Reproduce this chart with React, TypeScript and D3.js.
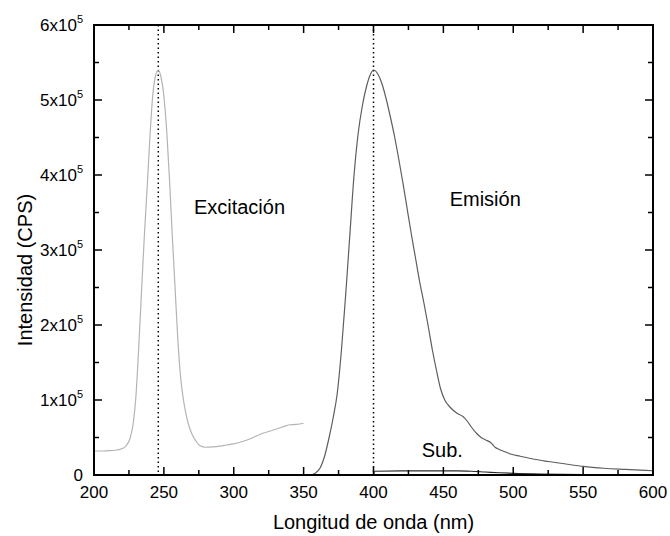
import React, { useEffect, useRef } from 'react'
import * as d3 from 'd3'

// wavelength (nm) / intensity (CPS)
const excWl = [200, 205, 210, 215, 220, 223, 226, 228, 230, 232, 234, 236, 238, 240, 242, 244, 246, 248, 250, 252, 254, 256, 258, 260, 262, 264, 266, 268, 270, 273, 276, 280, 285, 290, 295, 300, 305, 310, 315, 320, 325, 330, 335, 340, 345, 350]
const excI = [32000, 32000, 32500, 33000, 35000, 39000, 50000, 68000, 105000, 170000, 245000, 318000, 382000, 450000, 505000, 532000, 540000, 530000, 505000, 460000, 395000, 320000, 250000, 180000, 130000, 100000, 80000, 65000, 55000, 45000, 39000, 37000, 37500, 38500, 40000, 41500, 44000, 47000, 51000, 55000, 58000, 61000, 64000, 67000, 67500, 69000]

const emWl = [355, 358, 362, 365, 368, 371, 374, 377, 380, 383, 386, 389, 392, 395, 398, 400, 403, 406, 409, 412, 415, 418, 421, 424, 427, 430, 433, 436, 439, 442, 445, 448, 451, 455, 460, 464, 467, 470, 474, 477, 480, 484, 487, 490, 494, 498, 505, 515, 525, 540, 550, 565, 580, 600]
const emI = [0, 2000, 10000, 25000, 48000, 75000, 108000, 165000, 238000, 318000, 398000, 455000, 492000, 518000, 535000, 540000, 535000, 522000, 502000, 478000, 452000, 422000, 390000, 356000, 322000, 290000, 258000, 230000, 200000, 168000, 140000, 115000, 100000, 90000, 82000, 78000, 72000, 64000, 55000, 50000, 47000, 43000, 37000, 34000, 31000, 28000, 25000, 21000, 18000, 14000, 11500, 9000, 7500, 5700]

const subWl = [400, 401, 420, 440, 460, 470, 480, 490, 500, 520, 550, 600]
const subI = [0, 5000, 5500, 5500, 5500, 5000, 4000, 3000, 2200, 1200, 500, 200]

const peakLines = [246, 400]
const xTicks = [200, 250, 300, 350, 400, 450, 500, 550, 600]
const yTicks = [0, 1, 2, 3, 4, 5, 6]
const notes = [
  { text: 'Excitación', wl: 271.5, v: 3.48e5 },
  { text: 'Emisión', wl: 454.5, v: 3.59e5 },
  { text: 'Sub.', wl: 434.5, v: 0.24e5 },
]

const W = 670
const H = 536
const FONT = 'Liberation Sans, Arial, sans-serif'

export default function App() {
  const svgRef = useRef<SVGSVGElement>(null)

  useEffect(() => {
    if (!svgRef.current) return
    const svg = d3.select(svgRef.current)
    svg.selectAll('*').remove()

    const margin = { top: 25, right: 17, bottom: 61, left: 94 }
    const innerW = W - margin.left - margin.right
    const innerH = H - margin.top - margin.bottom

    const x = d3.scaleLinear().domain([200, 600]).range([0, innerW])
    const y = d3.scaleLinear().domain([0, 6e5]).range([innerH, 0])

    const g = svg.append('g').attr('transform', `translate(${margin.left},${margin.top})`)

    // peak markers
    peakLines.forEach(wl => {
      g.append('line')
        .attr('x1', x(wl)).attr('x2', x(wl)).attr('y1', 0).attr('y2', innerH)
        .attr('stroke', '#000').attr('stroke-width', 1.5).attr('stroke-dasharray', '1.5,3')
    })

    const line = d3.line<[number, number]>()
      .x(d => x(d[0])).y(d => y(d[1]))
      .curve(d3.curveMonotoneX)

    const series = [
      { wl: excWl, v: excI, color: '#b4b4b4' },
      { wl: emWl, v: emI, color: '#5e5e5e' },
      { wl: subWl, v: subI, color: '#2a2a2a' },
    ]
    series.forEach(s => {
      g.append('path')
        .datum(s.wl.map((w, i) => [w, s.v[i]] as [number, number]))
        .attr('d', line)
        .attr('fill', 'none').attr('stroke', s.color).attr('stroke-width', 1.2)
    })

    // frame
    g.append('rect').attr('width', innerW).attr('height', innerH)
      .attr('fill', 'none').attr('stroke', '#000').attr('stroke-width', 2)

    // ticks on all four sides, inward
    const xMinor = d3.range(200, 601, 25)
    xMinor.forEach(v => {
      const len = v % 50 === 0 ? 8 : 5
      g.append('line').attr('x1', x(v)).attr('x2', x(v)).attr('y1', innerH).attr('y2', innerH - len)
        .attr('stroke', '#000').attr('stroke-width', 1.5)
      g.append('line').attr('x1', x(v)).attr('x2', x(v)).attr('y1', 0).attr('y2', len)
        .attr('stroke', '#000').attr('stroke-width', 1.5)
    })
    const yMinor = d3.range(0, 6e5 + 1, 5e4)
    yMinor.forEach(v => {
      const len = v % 1e5 === 0 ? 8 : 5
      g.append('line').attr('x1', 0).attr('x2', len).attr('y1', y(v)).attr('y2', y(v))
        .attr('stroke', '#000').attr('stroke-width', 1.5)
      g.append('line').attr('x1', innerW).attr('x2', innerW - len).attr('y1', y(v)).attr('y2', y(v))
        .attr('stroke', '#000').attr('stroke-width', 1.5)
    })

    // x tick labels
    xTicks.forEach(v => {
      g.append('text')
        .attr('x', x(v)).attr('y', innerH + 23)
        .attr('text-anchor', 'middle').attr('font-family', FONT).attr('font-size', 17)
        .text(v)
    })

    // y tick labels
    yTicks.forEach(v => {
      const t = g.append('text')
        .attr('x', -11).attr('y', y(v * 1e5) + 6)
        .attr('text-anchor', 'end').attr('font-family', FONT).attr('font-size', 17)
      if (v === 0) {
        t.text('0')
      } else {
        t.append('tspan').text(`${v}x10`)
        t.append('tspan').attr('dy', -8).attr('font-size', 11).text('5')
      }
    })

    // axis titles
    g.append('text')
      .attr('x', innerW / 2).attr('y', innerH + 54)
      .attr('text-anchor', 'middle').attr('font-family', FONT).attr('font-size', 20)
      .text('Longitud de onda (nm)')
    g.append('text')
      .attr('transform', `translate(${-62},${innerH / 2 + 20}) rotate(-90)`)
      .attr('text-anchor', 'middle').attr('font-family', FONT).attr('font-size', 20)
      .text('Intensidad (CPS)')

    // curve annotations
    notes.forEach(n => {
      g.append('text')
        .attr('x', x(n.wl)).attr('y', y(n.v))
        .attr('text-anchor', 'start').attr('font-family', FONT).attr('font-size', 20)
        .text(n.text)
    })
  }, [])

  return (
    <div style={{ position: 'absolute', left: 0, top: 0, width: W, height: H }}>
      <svg ref={svgRef} width={W} height={H} style={{ display: 'block', background: '#fff' }} />
    </div>
  )
}
